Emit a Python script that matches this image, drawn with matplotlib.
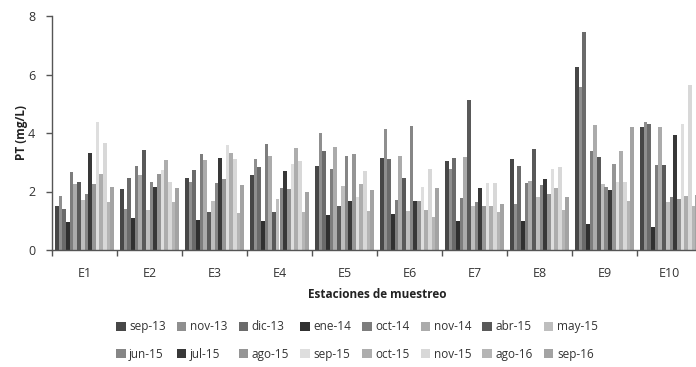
import matplotlib
matplotlib.use("Agg")
import matplotlib.pyplot as plt
import numpy as np

stations = ["E1", "E2", "E3", "E4", "E5", "E6", "E7", "E8", "E9", "E10"]
series_names = ["sep-13", "nov-13", "dic-13", "ene-14", "oct-14", "nov-14", "abr-15", "may-15",
                "jun-15", "jul-15", "ago-15", "sep-15", "oct-15", "nov-15", "ago-16", "sep-16"]

# values per series across E1..E10
sep_13 = [1.51, 2.09, 2.47, 2.58, 2.88, 3.16, 3.04, 3.11, 6.25, 4.22]
nov_13 = [1.86, 1.40, 2.31, 3.12, 3.99, 4.14, 2.77, 1.58, 5.58, 4.39]
dic_13 = [1.40, 2.47, 2.74, 2.85, 3.38, 3.12, 3.15, 2.88, 7.44, 4.32]
ene_14 = [0.95, 1.10, 1.03, 0.99, 1.18, 1.22, 0.99, 0.99, 0.88, 0.80]
oct_14 = [2.66, 2.88, 3.27, 3.61, 2.78, 1.71, 1.79, 2.28, 3.37, 2.92]
nov_14 = [2.27, 2.58, 3.06, 3.22, 3.53, 3.23, 3.19, 2.36, 4.26, 4.22]
abr_15 = [2.31, 3.42, 1.30, 1.30, 1.49, 2.47, 5.13, 3.45, 3.19, 2.92]
may_15 = [1.70, 1.38, 1.67, 1.75, 2.20, 1.33, 1.49, 1.82, 2.25, 1.64]
jun_15 = [1.90, 2.31, 2.28, 2.13, 3.22, 4.25, 1.65, 2.21, 2.17, 1.82]
jul_15 = [3.32, 2.17, 3.15, 2.70, 1.67, 1.67, 2.13, 2.43, 2.05, 3.94]
ago_15 = [2.25, 2.61, 2.44, 2.09, 3.27, 1.67, 1.51, 1.93, 2.93, 1.73]
sep_15 = [4.38, 2.73, 3.58, 2.93, 1.82, 2.17, 2.28, 2.77, 2.31, 4.32]
oct_15 = [2.61, 3.06, 3.30, 3.50, 2.25, 1.38, 1.49, 2.13, 3.37, 1.85]
nov_15 = [3.66, 2.31, 3.11, 3.04, 2.70, 2.78, 2.28, 2.85, 2.31, 5.64]
ago_16 = [1.65, 1.63, 1.26, 1.30, 1.33, 1.14, 1.30, 1.37, 1.67, 1.52]
sep_16 = [2.17, 2.13, 2.21, 1.97, 2.05, 2.13, 1.57, 1.82, 4.19, 1.89]

series_values = [sep_13, nov_13, dic_13, ene_14, oct_14, nov_14, abr_15, may_15,
                 jun_15, jul_15, ago_15, sep_15, oct_15, nov_15, ago_16, sep_16]

colors = ["#474747", "#8f8f8f", "#6b6b6b", "#303030", "#7d7d7d", "#ababab", "#595959", "#bebebe",
          "#868686", "#383838", "#959595", "#dedede", "#adadad", "#d8d8d8", "#b5b5b5", "#a3a3a3"]

y_ticks = [0, 2, 4, 6, 8]

plt.rcParams['font.family'] = ['Open Sans', 'DejaVu Sans']

fig = plt.figure(figsize=(6.96, 3.67), dpi=100)
ax = fig.add_axes([52/696, 117/367, 650/696, 234/367])

n = len(series_names)
total = 0.905
bw = total / n
x = np.arange(len(stations))
for j, (name, vals, c) in enumerate(zip(series_names, series_values, colors)):
    off = -total/2 + bw*(j + 0.5)
    ax.bar(x + off, vals, width=bw, color=c, label=name, linewidth=0)

ax.set_xlim(-0.5, len(stations) - 0.5)
ax.set_ylim(0, 8)
ax.set_yticks(y_ticks)
ax.set_xticks(x)
ax.set_xticklabels(stations, fontsize=9, color="#333333")
ax.set_xticks(np.arange(-0.5, len(stations), 1), minor=True)
ax.tick_params(axis='x', which='major', length=0, pad=12)
ax.tick_params(axis='x', which='minor', length=4, width=1, color="#555555", direction='out')
ax.tick_params(axis='y', length=4, width=1, color="#555555", labelsize=9, labelcolor="#333333", pad=8)
for s in ["top", "right"]:
    ax.spines[s].set_visible(False)
for s in ["left", "bottom"]:
    ax.spines[s].set_color("#555555")
    ax.spines[s].set_linewidth(1)

ax.set_ylabel("PT (mg/L)", fontsize=8.5, fontweight='bold', color="#222222", labelpad=0)
ax.set_xlabel("Estaciones de muestreo", fontsize=8.5, fontweight='bold', color="#222222", labelpad=6)

handles, labels = ax.get_legend_handles_labels()
# reorder for row-wise filling in ncol=8 legend (matplotlib fills column-wise)
order = []
for col in range(8):
    order += [col, col + 8]
leg = fig.legend([handles[i] for i in order], [labels[i] for i in order],
                 ncol=8, loc='center', bbox_to_anchor=(357/696, 1 - 340.5/367),
                 frameon=False, fontsize=8.5, handlelength=0.8, handleheight=0.8,
                 handletextpad=0.3, columnspacing=0.95, labelspacing=1.25,
                 labelcolor="#333333")

fig.savefig("out.png", dpi=100)
